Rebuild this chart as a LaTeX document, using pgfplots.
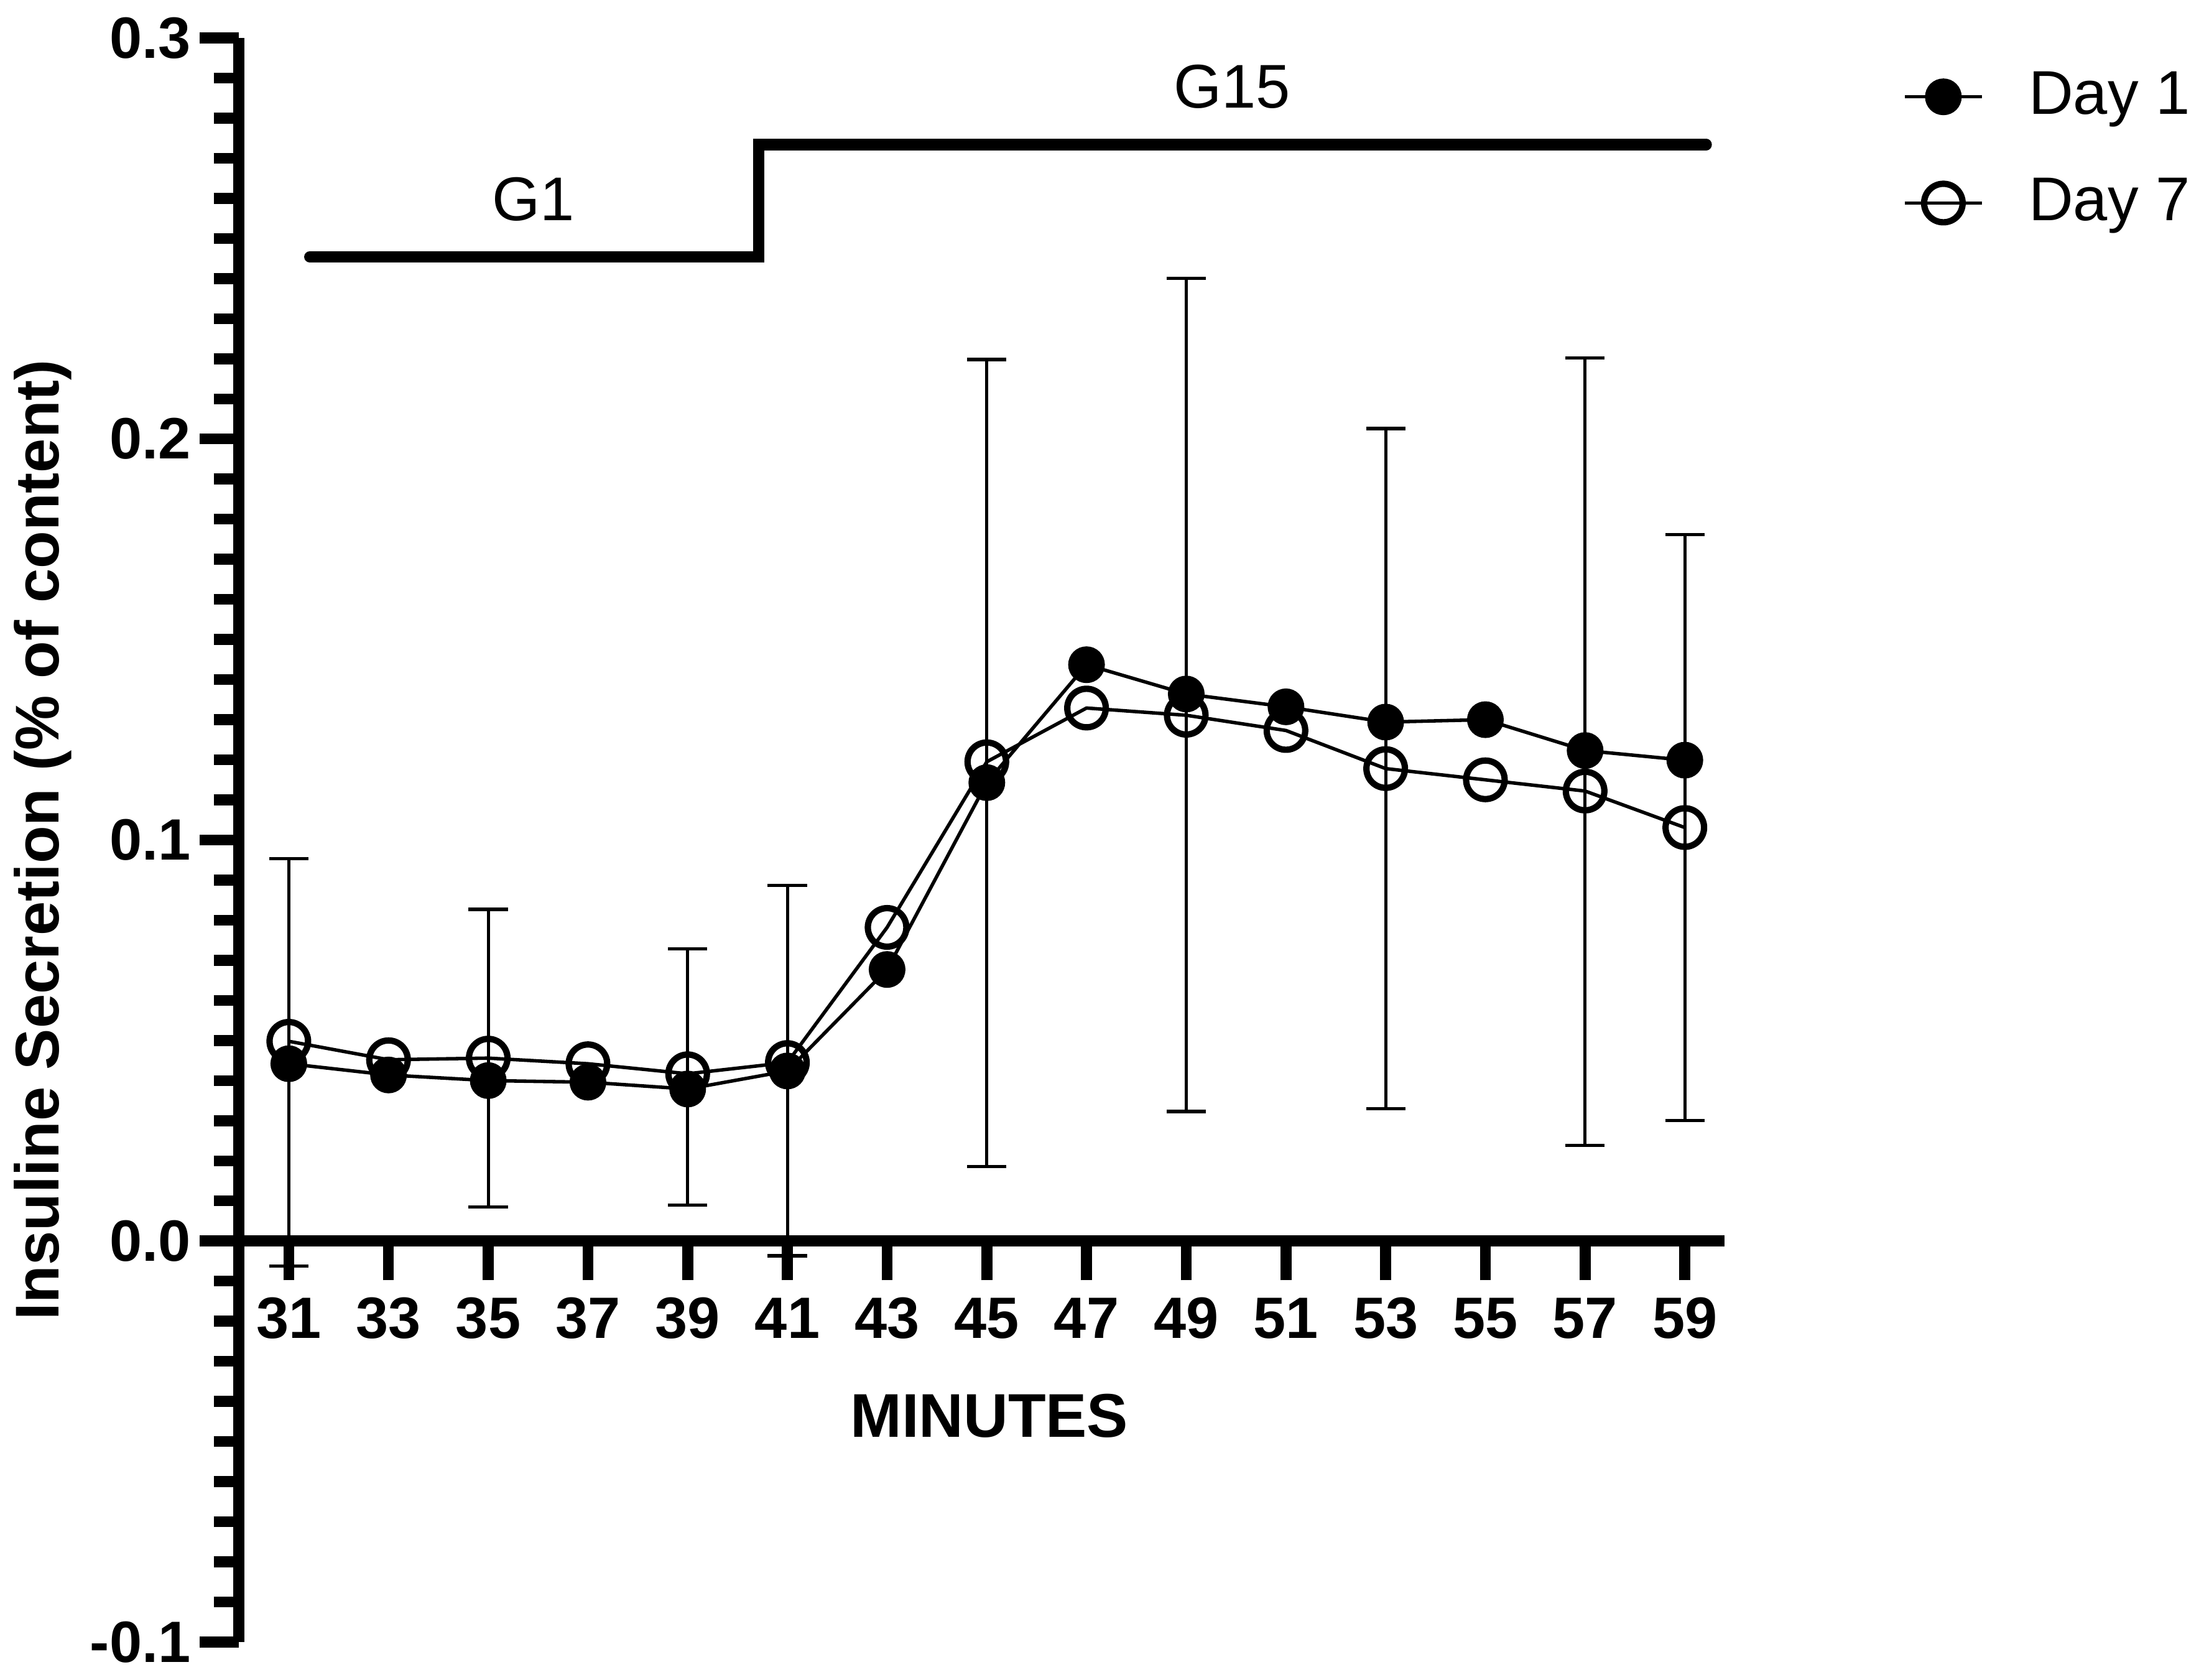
\documentclass[border=0pt]{standalone}
\usepackage{fontspec}
\setmainfont{Liberation Sans}
\usepackage{pgfplots}
\pgfplotsset{compat=1.18}
\begin{document}
\begin{tikzpicture}
\begin{axis}[
  scale only axis, width=10.57cm, height=11.41cm,
  xmin=30, xmax=59.8, ymin=-0.1, ymax=0.3,
  axis y line=left, axis x line=middle,
  axis line style={line width=2.27pt, -},
  xtick={31,33,...,59},
  ytick={-0.1,0,0.1,0.2,0.3},
  yticklabels={-0.1,0.0,0.1,0.2,0.3},
  minor y tick num=9,
  tick align=outside,
  major tick length=0.28cm, minor tick length=0.18cm,
  tick style={black, line width=2.2pt},
  /pgf/number format/assume math mode=true,
  ticklabel style={font=\bfseries\fontsize{11.8}{14}\selectfont},
  yticklabel style={xshift=0.06cm},
  every axis x label/.style={at={(axis description cs:0.505,0.141)}, anchor=center, font=\bfseries\fontsize{12.5}{15}\selectfont},
  every axis y label/.style={at={(axis description cs:-0.132,0.5)}, rotate=90, anchor=center, font=\bfseries\fontsize{12.5}{15}\selectfont},
  xlabel={MINUTES},
  ylabel={Insuline Secretion (\% of content)},
  clip=false,
  legend style={draw=none, fill=none, at={(axis description cs:1.12,0.985)}, anchor=north west, inner sep=0pt, outer sep=0pt, font=\fontsize{12.5}{15}\selectfont, row sep=0.26cm},
  legend cell align=left,
  /tikz/every odd column/.append style={column sep=0.25cm},
  legend image code/.code={\draw[mark repeat=2,mark phase=2,#1] plot coordinates {(0cm,0cm) (0.275cm,0cm) (0.55cm,0cm)};},
]
% treatment bar
\addplot[forget plot, black, line width=2.27pt, line cap=round, line join=miter] coordinates {(31.42,0.2454) (40.42,0.2454) (40.42,0.2734) (59.43,0.2734)};
% error bars
\addplot[forget plot, draw=none, mark=none,
  error bars/.cd, y dir=both, y explicit,
  error bar style={draw=black, line width=0.65pt},
  error mark options={rotate=90, mark size=0.14cm, line width=0.65pt, draw=black}]
coordinates {
(31,0.0446) +- (0,0.0508)
(35,0.0456) +- (0,0.0371)
(39,0.0409) +- (0,0.0320)
(41,0.0425) +- (0,0.0462)
(45,0.1192) +- (0,0.1006)
(49,0.1362) +- (0,0.1039)
(53,0.1178) +- (0,0.0848)
(57,0.1220) +- (0,0.0982)
(59,0.1031) +- (0,0.0730)
};
% Day 7 marks
\addplot[forget plot, only marks, mark=o, mark size=0.137cm, mark options={line width=1.28pt, fill=white, draw=black}] coordinates {
(31,0.0498)(33,0.0452)(35,0.0456)(37,0.0442)(39,0.0417)(41,0.0445)(43,0.0782)(45,0.1195)(47,0.1329)(49,0.1311)(51,0.1273)(53,0.1178)(55,0.1150)(57,0.1122)(59,0.1031)};
% Day 7 line
\addplot[forget plot, black, line width=0.7pt, mark=none] coordinates {
(31,0.0498)(33,0.0452)(35,0.0456)(37,0.0442)(39,0.0417)(41,0.0445)(43,0.0782)(45,0.1195)(47,0.1329)(49,0.1311)(51,0.1273)(53,0.1178)(55,0.1150)(57,0.1122)(59,0.1031)};
% Day 1
\addplot[forget plot, black, line width=0.7pt, mark=*, mark size=0.12cm, mark options={line width=0.6pt, fill=black}] coordinates {
(31,0.0442)(33,0.0414)(35,0.0400)(37,0.0396)(39,0.0379)(41,0.0424)(43,0.0677)(45,0.1143)(47,0.1437)(49,0.1364)(51,0.1332)(53,0.1294)(55,0.1300)(57,0.1223)(59,0.1199)};
\addlegendimage{black, line width=0.7pt, mark=*, mark size=0.12cm, mark options={line width=0.6pt, fill=black}}
\addlegendentry{Day 1}
\addlegendimage{black, line width=0.7pt, mark=o, mark size=0.137cm, mark options={line width=1.28pt}}
\addlegendentry{Day 7}
\node[font=\fontsize{12.5}{15}\selectfont] at (axis cs:35.9,0.2598) {G1};
\node[font=\fontsize{12.5}{15}\selectfont] at (axis cs:49.92,0.2878) {G15};
\coordinate (BL) at (rel axis cs:0,0);
\end{axis}
\pgfresetboundingbox
\path[use as bounding box] ([xshift=-1.70cm,yshift=-0.27cm]BL) rectangle ([xshift=13.98cm,yshift=11.68cm]BL);
\end{tikzpicture}
\end{document}
